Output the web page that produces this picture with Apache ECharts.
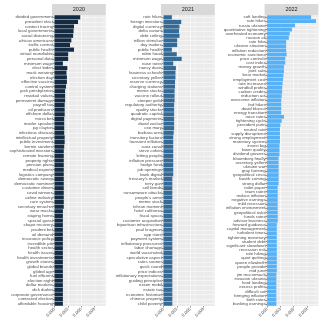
<!DOCTYPE html>
<html><head><meta charset="utf-8">
<script src="https://cdn.jsdelivr.net/npm/echarts@6/dist/echarts.min.js"></script>
<style>html,body{margin:0;padding:0;background:#fff}#c{width:322px;height:322px}</style>
</head><body><div id="c"></div>
<script>
const years = ['2020', '2021', '2022'];

const terms2020 = ['divided government','president elect','contact tracing','local governments','social distancing','african americans','traffic control','public health','virtual roundtable','personal data','minimum wage','elect biden','mask wearing','election day','effective vaccine','control system','york presbyterian','residual values','permanent damage','payroll tax','oil producers','offshore dollar','micro bet','insider speaker','jay clayton','infectious disease','intellectual property','public investment','bernie sanders','sophisticated investors','remote learning','property rights','pension plans','medical experts','logistics company','democratic sweep','democratic nominee','customer driven','covid winners','airline industry','care system','secretary mnuchin','wear masks','staying home','special guest','shape recovery','prudent bet','oil demand','insurance policy','incredible job','health sector','health issues','health investments','growth stories','global brands','gilded age','fuel efficient','election night','dollar markets','dick durbin','corporate governance','contested election','affordable housing'];
const tfidf2020 = [0.0058,0.0053,0.0044,0.0043,0.0042,0.0038,0.0035,0.0044,0.0031,0.0031,0.0019,0.0029,0.0027,0.0028,0.0028,0.0026,0.0024,0.0024,0.0024,0.0023,0.0023,0.0023,0.0022,0.0022,0.0022,0.0022,0.0023,0.0023,0.0022,0.0021,0.0021,0.0021,0.0021,0.0021,0.0021,0.0021,0.0021,0.0021,0.0021,0.0021,0.0021,0.0021,0.0019,0.0019,0.0019,0.0019,0.0019,0.0019,0.0019,0.0019,0.0019,0.0019,0.0019,0.0019,0.0019,0.0019,0.0019,0.0019,0.0019,0.0019,0.0019,0.0019,0.0019];

const terms2021 = ['rate hikes','foreign investors','digital currency','delta variant','debt ceiling','trillion stimulus','day traders','public health','robin hood','minimum wage','raise rates','nancy davis','business schools','secretary yellen','reserve currency','charging stations','meme stocks','vaccine rollout','steeper yield','regulatory authority','quality stocks','quadratic capital','digital payments','david zaslav','ceo mary','barbara anni','transitory factors','transient inflation','suez canal','steve cohen','letting people','inflation pressure','hedge fund','job openings','bank digital',"treasury's market",'terry gan','sell bonds','ransomware attacks',"people's arms",'meme stock','tehran moment','hotel california','fiscal space','customer acquisition','bipartisan infrastructure','paul krugman','app store','payment system','inflationary pressures','labor shortage','world vaccinated','speculative aspect','rates sooner','quick round','price indices','inflationary expectations','guiding principles','exxon mobil','estate tax','economic historian','chinese property','child poverty'];
const tfidf2021 = [0.0019,0.0040,0.0036,0.0035,0.0036,0.0031,0.0031,0.0019,0.0030,0.0041,0.0022,0.0028,0.0027,0.0027,0.0026,0.0026,0.0025,0.0025,0.0025,0.0024,0.0024,0.0024,0.0024,0.0024,0.0024,0.0023,0.0022,0.0022,0.0022,0.0022,0.0022,0.0022,0.0022,0.0022,0.0022,0.0020,0.0020,0.0020,0.0020,0.0020,0.0020,0.0020,0.0020,0.0020,0.0020,0.0020,0.0020,0.0020,0.0020,0.0020,0.0020,0.0020,0.0020,0.0020,0.0020,0.0020,0.0020,0.0020,0.0020,0.0020,0.0020,0.0020,0.0020];

const terms2022 = ['soft landing','rate hikes','russia ukraine','quantitative tightening','overheated economy','russian oil','rate hike','ukraine situation','inflation reduction','economic sanctions','price controls','cost index','money growth','joint sale','bear market','employment cost','rate increases','windfall profits','carbon credits','reduction act','overcome inflation','fed hikes','david blanco','energy transition','raise rates','tightening cycle','president putin','neutral rate','supply disruptions','strong employment','monetary system','invest big','lower quality','dividend growers','bloomberg finally','secretary yellen','ukraine war','gray farming','geopolitical crisis','bostik coming','strong dollar','toilet paper','team rates','reduce inflation','negative earnings','mild recession','inflation environment','geopolitical risks','funds rates','advisor business','forward guidance','capital management','turbulent times','tightening monetary','student debt','significant slowdown','recession risk','rate hiking','quiet quitting','queen elizabeth','people provide','mid june','jim mccormack','invasion ukraine','hard landing','excess profits','difficult set','bringing inflation','birth rates','banking earnings'];
const tfidf2022 = [0.0099,0.0110,0.0063,0.0056,0.0051,0.0049,0.0043,0.0043,0.0043,0.0044,0.0041,0.0041,0.0038,0.0038,0.0037,0.0036,0.0035,0.0034,0.0034,0.0033,0.0032,0.0032,0.0032,0.0032,0.0038,0.0033,0.0030,0.0029,0.0029,0.0029,0.0029,0.0028,0.0028,0.0028,0.0026,0.0026,0.0026,0.0026,0.0026,0.0026,0.0026,0.0024,0.0024,0.0024,0.0024,0.0024,0.0024,0.0024,0.0024,0.0024,0.0022,0.0022,0.0022,0.0022,0.0022,0.0022,0.0022,0.0022,0.0022,0.0022,0.0022,0.0022,0.0021,0.0021,0.0021,0.0021,0.0021,0.0021,0.0021,0.0021];

const xTickValues = [0, 0.003, 0.006, 0.009];
const xTickLabels = ['0.000', '0.003', '0.006', '0.009'];

const termsByYear = [terms2020, terms2021, terms2022];
const valuesByYear = [tfidf2020, tfidf2021, tfidf2022];
const barColors = ['#132B43', '#336A98', '#56B1F7'];

// layout
const panelLeft = [52, 161, 264.6];
const panelW = 53.8;
const padPx = 2.44;
const panelTop = 15, panelBottom = 306, stripTop = 4;
const xMax = 0.01155;
const labelFont = 4.3;
const textColor = '#4D4D4D';

const grids = [], xAxes = [], yAxes = [], seriesList = [], graphics = [];
years.forEach((yr, i) => {
  grids.push({left: panelLeft[i] + padPx, top: panelTop, width: panelW - padPx, height: panelBottom - panelTop, containLabel: false, show: false});
  xAxes.push({
    type: 'value', gridIndex: i, min: 0, max: xMax,
    axisLine: {show: false},
    axisTick: {show: true, length: 1.5, lineStyle: {color: '#333', width: 0.5}, customValues: xTickValues},
    axisLabel: {customValues: xTickValues, rotate: 45, fontSize: labelFont, color: textColor, margin: 2.5,
      fontFamily: 'Liberation Sans',
      formatter: v => { const k = xTickValues.findIndex(t => Math.abs(t - v) < 1e-9); return k >= 0 ? xTickLabels[k] : ''; }},
    splitLine: {show: true, showMaxLine: false, lineStyle: {color: '#fff', width: 0.6}},
    minorTick: {show: false, splitNumber: 2},
    minorSplitLine: {show: true, lineStyle: {color: '#fff', width: 0.3}}
  });
  yAxes.push({
    type: 'category', gridIndex: i, inverse: true, data: termsByYear[i],
    axisLine: {show: false},
    axisTick: {show: true, length: 1.5, alignWithLabel: true, lineStyle: {color: '#333', width: 0.5}},
    axisLabel: {interval: 0, fontSize: labelFont, color: textColor, margin: 1.5, fontFamily: 'Liberation Sans'},
    splitLine: {show: true, alignWithLabel: true, lineStyle: {color: '#fff', width: 0.5}}
  });
  seriesList.push({
    type: 'bar', xAxisIndex: i, yAxisIndex: i, data: valuesByYear[i], barWidth: '90%',
    itemStyle: {color: barColors[i]}, silent: true
  });
  graphics.push({type: 'rect', z: -10, shape: {x: panelLeft[i], y: panelTop, width: panelW, height: panelBottom - panelTop}, style: {fill: '#EBEBEB'}});
  graphics.push({type: 'rect', z: -10, shape: {x: panelLeft[i], y: stripTop, width: panelW, height: panelTop - stripTop}, style: {fill: '#D9D9D9'}});
  graphics.push({type: 'text', z: 10, x: panelLeft[i] + panelW / 2, y: (stripTop + panelTop) / 2,
    style: {text: yr, fill: '#1A1A1A', fontSize: 5.5, fontFamily: 'Liberation Sans', align: 'center', verticalAlign: 'middle'}});
});

const chart = echarts.init(document.getElementById('c'), null, {renderer: 'canvas'});
chart.setOption({
  animation: false,
  backgroundColor: '#fff',
  grid: grids, xAxis: xAxes, yAxis: yAxes, series: seriesList,
  graphic: {elements: graphics}
});
</script></body></html>
